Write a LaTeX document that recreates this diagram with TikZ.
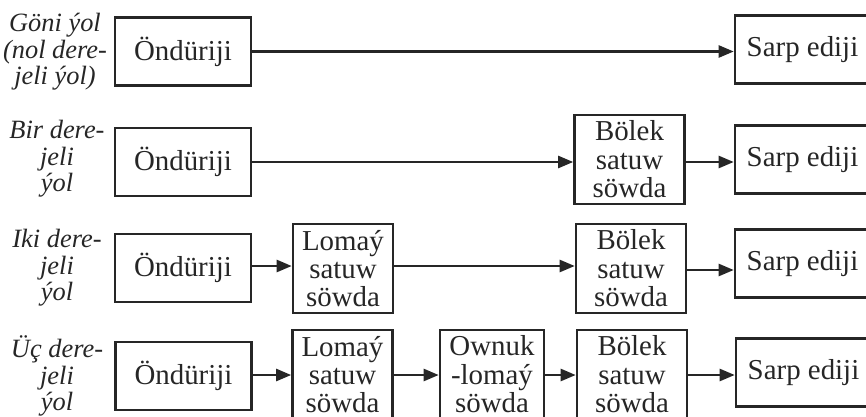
\documentclass[tikz,border=0pt]{standalone}
\usepackage{fontspec}
\setmainfont{Liberation Serif}
\usetikzlibrary{arrows.meta}
\begin{document}
\begin{tikzpicture}[x=1bp,y=-1bp,
  box/.style={draw=black!85, line width=2.6bp, inner sep=0pt, align=center,
    font=\fontsize{29}{28.5}\selectfont, text=black!85},
  onebox/.style={box, minimum width=136bp, minimum height=68bp},
  sarpbox/.style={box, minimum width=135bp, minimum height=68bp},
  tribox/.style={box, minimum height=89bp},
  lbl/.style={inner sep=0pt, align=center, font=\fontsize{26.5}{26.5}\selectfont\itshape, text=black!85},
  arr/.style={line width=2.4bp, draw=black!85, -{Triangle[length=15bp,width=12bp]}}]
\useasboundingbox (0,0) rectangle (866,416);
\clip (0,0) rectangle (866,416);
% labels
\node[lbl] (l1) at (55,52) {Göni ýol\\(nol dere-\\jeli ýol)};
\node[lbl] (l2) at (57,159) {Bir dere-\\jeli\\ýol};
\node[lbl] (l3) at (57,268) {Iki dere-\\jeli\\ýol};
\node[lbl] (l4) at (57,376) {Üç dere-\\jeli\\ýol};
% row 1
\node[onebox] (o1) at (183,51.5) {Öndüriji};
\node[sarpbox] (s1) at (802.5,49.5) {Sarp ediji};
% row 2
\node[onebox] (o2) at (183,162) {Öndüriji};
\node[tribox, minimum width=110bp] (b2) at (629.5,159.5) {Bölek\\satuw\\söwda};
\node[sarpbox] (s2) at (802.5,159.5) {Sarp ediji};
% row 3
\node[onebox] (o3) at (183,268) {Öndüriji};
\node[tribox, minimum width=100bp] (m3) at (343,268.5) {Lomaý\\satuw\\söwda};
\node[tribox, minimum width=110bp] (b3) at (631,268.5) {Bölek\\satuw\\söwda};
\node[sarpbox] (s3) at (802.5,263.5) {Sarp ediji};
% row 4
\node[onebox] (o4) at (183.5,376) {Öndüriji};
\node[tribox, minimum width=100bp] (m4) at (342.5,374.5) {Lomaý\\satuw\\söwda};
\node[tribox, minimum width=104bp] (w4) at (492,374.5) {Ownuk\\-lomaý\\söwda};
\node[tribox, minimum width=110bp] (b4) at (632,374.5) {Bölek\\satuw\\söwda};
\node[sarpbox] (s4) at (803.5,372.5) {Sarp ediji};
% arrows
\draw[arr] (o1.east) -- (o1.east -| s1.west);
\draw[arr] (o2.east) -- (o2.east -| b2.west);
\draw[arr] (b2.east |- o2.east) -- (o2.east -| s2.west);
\draw[arr] ([yshift=2bp]o3.east) -- ([yshift=2bp]o3.east -| m3.west);
\draw[arr] ([yshift=2bp]m3.east |- o3.east) -- ([yshift=2bp]o3.east -| b3.west);
\draw[arr] ([yshift=-2bp]b3.east |- o3.east) -- ([yshift=-2bp]o3.east -| s3.west);
\draw[arr] ([yshift=1bp]o4.east) -- ([yshift=1bp]o4.east -| m4.west);
\draw[arr] ([yshift=1bp]m4.east |- o4.east) -- ([yshift=1bp]o4.east -| w4.west);
\draw[arr] ([yshift=1bp]w4.east |- o4.east) -- ([yshift=1bp]o4.east -| b4.west);
\draw[arr] ([yshift=1bp]b4.east |- o4.east) -- ([yshift=1bp]o4.east -| s4.west);
\end{tikzpicture}
\end{document}
